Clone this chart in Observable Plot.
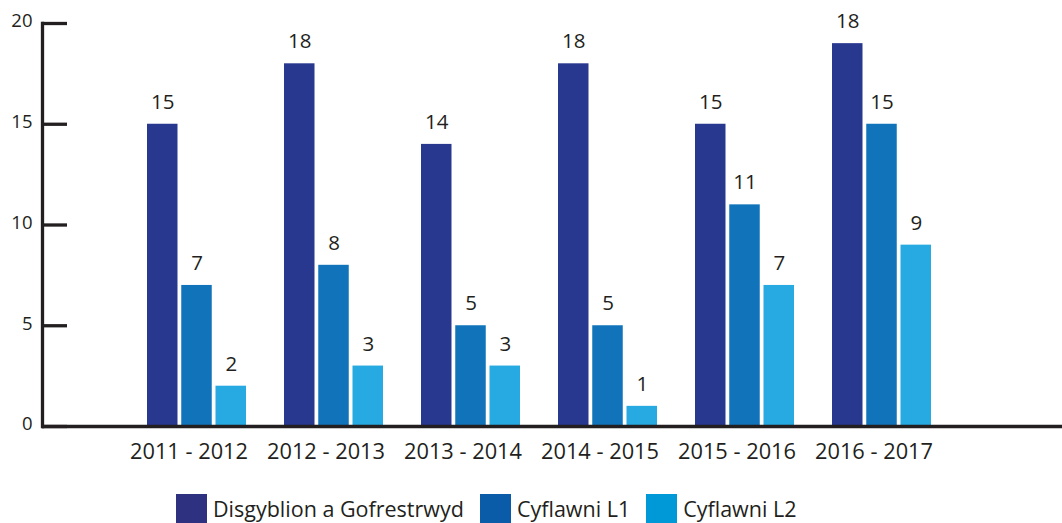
<!DOCTYPE html>
<html>
<head>
<meta charset="utf-8">
<script src="https://cdn.jsdelivr.net/npm/d3@7"></script>
<script src="https://cdn.jsdelivr.net/npm/@observablehq/plot@0.6"></script>
<style>
  html, body { margin: 0; padding: 0; background: #fff; }
  body { font-family: "Open Sans", sans-serif; color: #231f20; width: 1062px; height: 523px; overflow: hidden; }
  #legend { height: 48px; box-sizing: border-box; padding-top: 19px; padding-left: 176px; display: flex; align-items: center; }
  .item { display: flex; align-items: center; margin-right: 16px; }
  .sw { width: 31px; height: 29px; margin-right: 6px; }
  .lab { font-size: 21.5px; line-height: 29px; white-space: nowrap; }
</style>
</head>
<body>
<div id="chart"></div>
<div id="legend"></div>
<script>
const years = ["2011 - 2012", "2012 - 2013", "2013 - 2014", "2014 - 2015", "2015 - 2016", "2016 - 2017"];
const seriesNames = ["Disgyblion a Gofrestrwyd", "Cyflawni L1", "Cyflawni L2"];
const enrolled = [15, 18, 14, 18, 15, 19];
const enrolledLabels = ["15", "18", "14", "18", "15", "18"];
const level1 = [7, 8, 5, 5, 11, 15];
const level2 = [2, 3, 3, 1, 7, 9];
const yTicks = [0, 5, 10, 15, 20];

const barColors = ["#29388f", "#1174bb", "#27aae1"];
const legendColors = ["#2e3180", "#0a5ca9", "#0099d8"];

const seriesValues = [enrolled, level1, level2];
const seriesLabels = [enrolledLabels, level1.map(String), level2.map(String)];

const pitch = 34.25;
const W = 1062, H = 475, mL = 42, mT = 23, mB = 49;

const marks = [];
seriesNames.forEach((name, i) => {
  const rows = years.map((y, j) => ({year: y, series: name, value: seriesValues[i][j], label: seriesLabels[i][j]}));
  marks.push(Plot.barY(rows, {
    x: "year", y: "value", fill: barColors[i],
    insetLeft: i * pitch, insetRight: (2 - i) * pitch
  }));
  marks.push(Plot.text(rows, {
    x: "year", y: "value", text: "label",
    dx: (i - 1) * pitch, dy: -22, fontSize: 20.5, fill: "#231f20"
  }));
});

marks.push(Plot.ruleY([0], {stroke: "#231f20", strokeWidth: 3.3}));
marks.push(Plot.frame({anchor: "left", stroke: "#231f20", strokeWidth: 3.3}));
marks.push(Plot.tickY(yTicks, {y: d => d, stroke: "#231f20", strokeWidth: 3.3, insetRight: W - mL - 25}));
marks.push(Plot.axisY({ticks: yTicks, tickSize: 0, tickPadding: 10, fontSize: 18.5, dy: -2, fill: "#231f20", label: null}));
marks.push(Plot.axisX({tickSize: 0, tickPadding: 17, fontSize: 21.8, dx: -8, fill: "#231f20", label: null}));

const chart = Plot.plot({
  width: W,
  height: H,
  marginLeft: mL,
  marginRight: 0,
  marginTop: mT,
  marginBottom: mB,
  style: {fontFamily: "Open Sans, sans-serif", background: "#fff", color: "#231f20", overflow: "visible"},
  x: {domain: years, range: [146, 932], paddingInner: 0.275, paddingOuter: 0},
  y: {domain: [0, 20]},
  marks
});
document.getElementById("chart").appendChild(chart);

const legend = document.getElementById("legend");
seriesNames.forEach((name, i) => {
  const item = document.createElement("div");
  item.className = "item";
  const sw = document.createElement("div");
  sw.className = "sw";
  sw.style.background = legendColors[i];
  const lab = document.createElement("span");
  lab.className = "lab";
  lab.textContent = name;
  item.appendChild(sw);
  item.appendChild(lab);
  legend.appendChild(item);
});
</script>
</body>
</html>
